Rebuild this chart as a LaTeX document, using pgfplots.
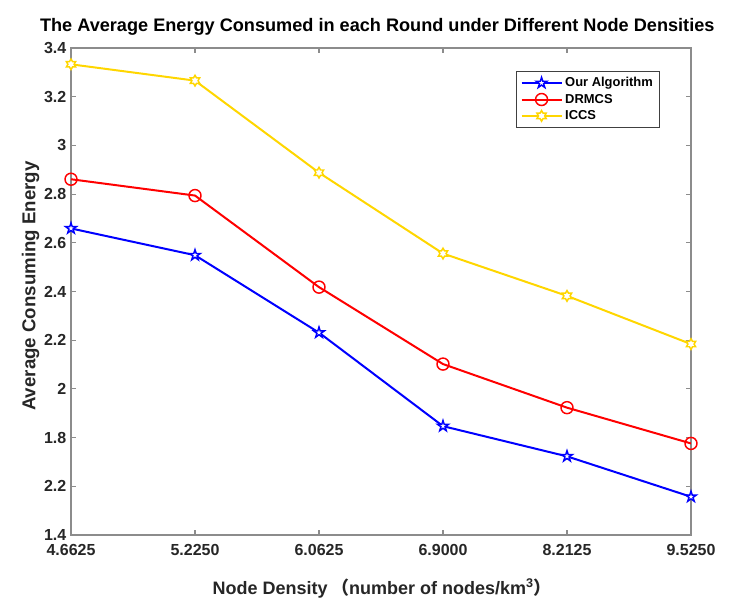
\documentclass[border=0pt]{standalone}
\usepackage{pgfplots}
\pgfplotsset{compat=1.18}
\usepackage{fontspec}
\setmainfont{Liberation Sans}
\newfontfamily\cjk{Noto Sans CJK SC}

\definecolor{matblue}{RGB}{0,0,255}
\definecolor{matred}{RGB}{255,0,0}
\definecolor{matgold}{RGB}{255,214,0}
\definecolor{axgray}{RGB}{140,140,140}
\definecolor{txtgray}{RGB}{38,38,38}

% MATLAB style pentagram and hexagram markers
\pgfdeclareplotmark{pentagram}{%
  \pgfpathmoveto{\pgfpointpolar{90}{\pgfplotmarksize}}%
  \pgfpathlineto{\pgfpointpolar{126}{0.382\pgfplotmarksize}}%
  \pgfpathlineto{\pgfpointpolar{162}{\pgfplotmarksize}}%
  \pgfpathlineto{\pgfpointpolar{198}{0.382\pgfplotmarksize}}%
  \pgfpathlineto{\pgfpointpolar{234}{\pgfplotmarksize}}%
  \pgfpathlineto{\pgfpointpolar{270}{0.382\pgfplotmarksize}}%
  \pgfpathlineto{\pgfpointpolar{306}{\pgfplotmarksize}}%
  \pgfpathlineto{\pgfpointpolar{342}{0.382\pgfplotmarksize}}%
  \pgfpathlineto{\pgfpointpolar{18}{\pgfplotmarksize}}%
  \pgfpathlineto{\pgfpointpolar{54}{0.382\pgfplotmarksize}}%
  \pgfpathclose
  \pgfusepathqfillstroke
}
\pgfdeclareplotmark{hexagram}{%
  \pgfpathmoveto{\pgfpointpolar{90}{\pgfplotmarksize}}%
  \pgfpathlineto{\pgfpointpolar{120}{0.577\pgfplotmarksize}}%
  \pgfpathlineto{\pgfpointpolar{150}{\pgfplotmarksize}}%
  \pgfpathlineto{\pgfpointpolar{180}{0.577\pgfplotmarksize}}%
  \pgfpathlineto{\pgfpointpolar{210}{\pgfplotmarksize}}%
  \pgfpathlineto{\pgfpointpolar{240}{0.577\pgfplotmarksize}}%
  \pgfpathlineto{\pgfpointpolar{270}{\pgfplotmarksize}}%
  \pgfpathlineto{\pgfpointpolar{300}{0.577\pgfplotmarksize}}%
  \pgfpathlineto{\pgfpointpolar{330}{\pgfplotmarksize}}%
  \pgfpathlineto{\pgfpointpolar{0}{0.577\pgfplotmarksize}}%
  \pgfpathlineto{\pgfpointpolar{30}{\pgfplotmarksize}}%
  \pgfpathlineto{\pgfpointpolar{60}{0.577\pgfplotmarksize}}%
  \pgfpathclose
  \pgfusepathqfillstroke
}

\begin{document}
\begin{tikzpicture}
\begin{axis}[
  scale only axis,
  width=465pt, height=365.25pt,
  xmin=0, xmax=5, ymin=1.4, ymax=3.4,
  xtick={0,1,2,3,4,5},
  xticklabels={4.6625,5.2250,6.0625,6.9000,8.2125,9.5250},
  ytick={1.4,1.6,1.8,2.0,2.2,2.4,2.6,2.8,3.0,3.2,3.4},
  yticklabels={1.4,2.2,1.8,2,2.2,2.4,2.6,2.8,3,3.2,3.4},
  tick align=inside,
  major tick length=4pt,
  axis line style={axgray, line width=0.8pt},
  every tick/.style={axgray, line width=0.8pt},
  tick label style={font=\bfseries\fontsize{12}{14}\selectfont, text=txtgray},
  /pgf/number format/assume math mode=true,
  xticklabel style={yshift=-3.5pt},
  title={The Average Energy Consumed in each Round under Different Node Densities},
  title style={font=\bfseries\fontsize{13.6}{16}\selectfont, at={(axis description cs:0.494,1.017)}, anchor=base},
  xlabel={Node Density\hspace{0.2em}{\cjk（}number of nodes/km\textsuperscript{3}{\cjk）}},
  xlabel style={font=\bfseries\fontsize{13.5}{16}\selectfont, text=txtgray, at={(axis description cs:0.502,-0.109)}, anchor=center},
  ylabel={Average Consuming Energy},
  ylabel style={font=\bfseries\fontsize{14}{16}\selectfont, text=txtgray, at={(axis description cs:-0.065,0.511)}, anchor=center},
  legend style={at={(axis description cs:0.718,0.953)}, anchor=north west,
    draw=black!75, line width=0.6pt, font=\bfseries\fontsize{9.7}{11}\selectfont,
    row sep=0pt, inner xsep=3pt, inner ysep=2.5pt},
  legend cell align=left,
  legend image code/.code={%
    \draw[mark repeat=2,mark phase=2] plot coordinates {(0pt,0pt) (15pt,0pt) (30pt,0pt)};},
  legend image post style={line width=1.5pt},
  every axis plot/.append style={line width=1.5pt},
]
\addplot[color=matblue, mark=pentagram, mark size=4.2pt, mark options={fill=white, line width=1.1pt}]
  coordinates {(0,2.659) (1,2.549) (2,2.231) (3,1.847) (4,1.723) (5,1.557)};
\addlegendentry{Our Algorithm}
\addplot[color=matred, mark=o, mark size=4.5pt, mark options={fill=white, line width=1.1pt}]
  coordinates {(0,2.861) (1,2.794) (2,2.418) (3,2.102) (4,1.923) (5,1.776)};
\addlegendentry{DRMCS}
\addplot[color=matgold, mark=hexagram, mark size=4pt, mark options={fill=white, line width=1.1pt}]
  coordinates {(0,3.333) (1,3.266) (2,2.888) (3,2.556) (4,2.382) (5,2.184)};
\addlegendentry{ICCS}
\end{axis}
\pgfresetboundingbox
\path (current axis.south west) ++(-53.25pt,-51.75pt) rectangle ++(546.75pt,453pt);
\end{tikzpicture}
\end{document}
